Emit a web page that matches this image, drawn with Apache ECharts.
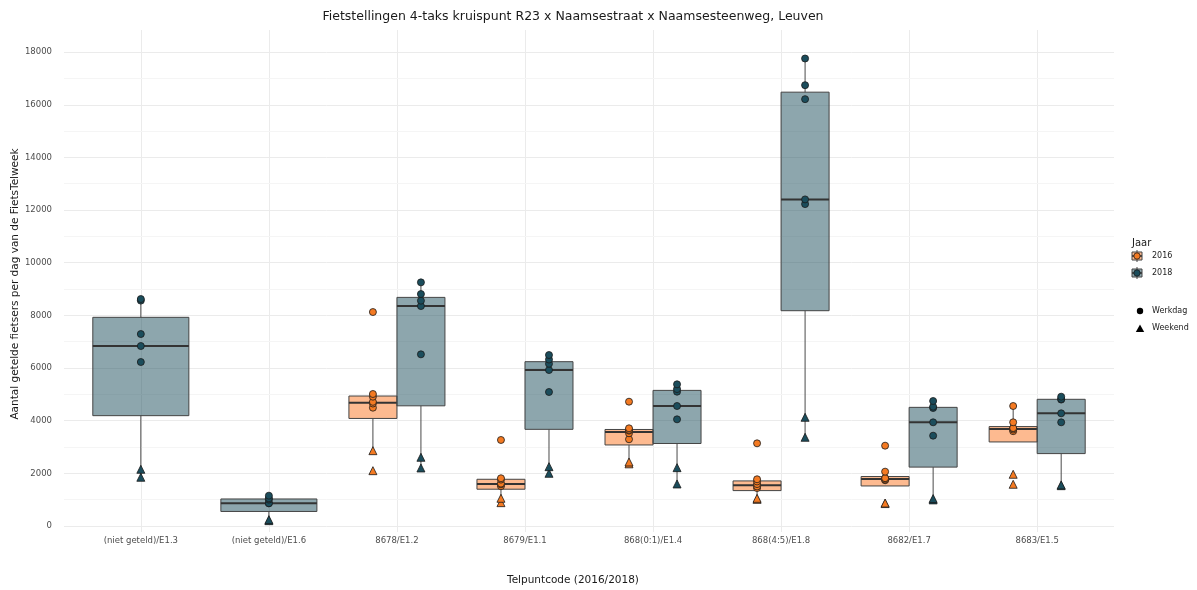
<!DOCTYPE html>
<html>
<head>
<meta charset="utf-8">
<script src="https://cdn.jsdelivr.net/npm/echarts@6/dist/echarts.min.js"></script>
<style>html,body{margin:0;padding:0;background:#fff;}#chart{width:1197px;height:590px;}</style>
</head>
<body>
<div id="chart"></div>
<script>
// ---------------- data ----------------
const categories = ['(niet geteld)/E1.3','(niet geteld)/E1.6','8678/E1.2','8679/E1.1','868(0:1)/E1.4','868(4:5)/E1.8','8682/E1.7','8683/E1.5'];
const years = ['2016', '2018'];
// counts per category (one list per category)
const werkdag2016 = [[], [], [4492,4650,4714,4910,5012,8126], [1510,1580,1610,1760,1811,3265], [3292,3520,3620,3650,3709,4720], [1440,1500,1590,1690,1773,3139], [1735,1760,1808,1815,2062,3049], [3600,3660,3706,3720,3937,4556]];
const weekend2016 = [[], [], [2100,2860], [885,1052], [2360,2430], [1010,1050], [850,870], [1583,1963]];
const werkdag2018 = [[6227,6835,7290,8560,8620], [860,862,1000,1050,1150], [6519,8353,8556,8809,9253], [5088,5923,6160,6320,6493], [4050,4556,5100,5200,5380], [12226,12405,16213,16744,17757], [3429,3937,4480,4530,4746], [3937,4279,4800,4822,4910]];
const weekend2018 = [[1849,2152], [201,240], [2202,2608], [2000,2252], [1595,2214], [3368,4127], [990,1040], [1530,1560]];
const yTicks = [0,2000,4000,6000,8000,10000,12000,14000,16000,18000];
const yMinorTicks = [1000,3000,5000,7000,9000,11000,13000,15000,17000];
const yRange = [-230, 18840];

// ---------------- styles ----------------
const pointColor = {'2016': '#f47a22', '2018': '#1b4d5c'};
const boxFill = {'2016': 'rgba(251,140,70,0.6)', '2018': 'rgba(27,77,92,0.5)'};
const BOX_WIDTH = 0.75;

// ---------------- stats (ggplot-style boxplot) ----------------
function quantile(sorted, p) {
  const h = (sorted.length - 1) * p;
  const lo = Math.floor(h), hi = Math.ceil(h);
  return sorted[lo] + (h - lo) * (sorted[hi] - sorted[lo]);
}
function boxStats(values) {
  const s = values.slice().sort((a, b) => a - b);
  const q1 = quantile(s, 0.25), med = quantile(s, 0.5), q3 = quantile(s, 0.75);
  const iqr = q3 - q1;
  const inside = s.filter(v => v >= q1 - 1.5 * iqr && v <= q3 + 1.5 * iqr);
  return [inside[0], q1, med, q3, inside[inside.length - 1]];
}

const groups = {'2016': [werkdag2016, weekend2016], '2018': [werkdag2018, weekend2018]};
function hasYear(y, i) { return groups[y][0][i].length + groups[y][1][i].length > 0; }
function xPos(y, i) {
  const both = hasYear('2016', i) && hasYear('2018', i);
  if (!both) return i;
  return i + (y === '2016' ? -1 : 1) * BOX_WIDTH / 4;
}
function boxWidth(i) {
  const both = hasYear('2016', i) && hasYear('2018', i);
  return both ? BOX_WIDTH / 2 : BOX_WIDTH;
}

function boxData(y) {
  const out = [];
  categories.forEach((c, i) => {
    if (!hasYear(y, i)) return;
    const vals = groups[y][0][i].concat(groups[y][1][i]);
    const st = boxStats(vals);
    out.push([xPos(y, i)].concat(st).concat([boxWidth(i)]));
  });
  return out;
}
function pointData(y, k) {
  const out = [];
  categories.forEach((c, i) => {
    groups[y][k][i].forEach(v => out.push([xPos(y, i), v]));
  });
  return out;
}

function makeRender(y) {
  return function (params, api) {
    const x = api.value(0);
    const half = api.size([api.value(6), 0])[0] / 2;
    const pMin = api.coord([x, api.value(1)]);
    const pQ1 = api.coord([x, api.value(2)]);
    const pMed = api.coord([x, api.value(3)]);
    const pQ3 = api.coord([x, api.value(4)]);
    const pMax = api.coord([x, api.value(5)]);
    const cx = pMed[0];
    const ch = [];
    const wStyle = {stroke: '#4a4a4a', lineWidth: 1};
    if (api.value(5) > api.value(4)) ch.push({type: 'line', shape: {x1: cx, y1: pQ3[1], x2: cx, y2: pMax[1]}, style: wStyle});
    if (api.value(1) < api.value(2)) ch.push({type: 'line', shape: {x1: cx, y1: pQ1[1], x2: cx, y2: pMin[1]}, style: wStyle});
    ch.push({type: 'rect', shape: {x: cx - half, y: pQ3[1], width: 2 * half, height: pQ1[1] - pQ3[1]},
      style: {fill: boxFill[y], stroke: '#444', lineWidth: 1}});
    ch.push({type: 'line', shape: {x1: cx - half, y1: pMed[1], x2: cx + half, y2: pMed[1]}, style: {stroke: '#333', lineWidth: 2}});
    return {type: 'group', children: ch};
  };
}

const gridLines = [];
categories.forEach((c, i) => gridLines.push({xAxis: i, lineStyle: {color: '#ebebeb', width: 1, type: 'solid'}}));
yTicks.forEach(v => gridLines.push({yAxis: v, lineStyle: {color: '#ebebeb', width: 1, type: 'solid'}}));
yMinorTicks.forEach(v => gridLines.push({yAxis: v, lineStyle: {color: '#f5f5f5', width: 1, type: 'solid'}}));

const series = [{
  type: 'scatter', name: 'grid', data: [[0, 0]], symbolSize: 0, silent: true, z: 0,
  markLine: {silent: true, z: 0, symbol: 'none', label: {show: false}, animation: false,
    lineStyle: {type: 'solid'}, emphasis: {disabled: true}, data: gridLines}
}];
years.forEach(y => {
  series.push({type: 'custom', name: y, renderItem: makeRender(y), data: boxData(y),
    encode: {x: 0, y: [1, 2, 3, 4, 5]}, z: 2, silent: true});
});
years.forEach(y => {
  series.push({type: 'scatter', name: y + ' Werkdag', data: pointData(y, 0), symbol: 'circle', symbolSize: 7, z: 3,
    itemStyle: {color: pointColor[y], borderColor: '#1a1a1a', borderWidth: 0.8, opacity: 1}});
  series.push({type: 'scatter', name: y + ' Weekend', data: pointData(y, 1), symbol: 'triangle', symbolSize: 8, z: 3,
    itemStyle: {color: pointColor[y], borderColor: '#1a1a1a', borderWidth: 0.8, opacity: 1}});
});

const FONT = 'DejaVu Sans';
const chart = echarts.init(document.getElementById('chart'), null, {renderer: 'canvas'});
chart.setOption({
  animation: false,
  backgroundColor: '#fff',
  textStyle: {fontFamily: FONT},
  grid: {left: 64, right: 83, top: 30, bottom: 58},
  xAxis: {
    type: 'value', min: -0.6, max: 7.6, minInterval: 1, maxInterval: 1,
    axisLine: {show: false}, axisTick: {show: false}, splitLine: {show: false},
    axisLabel: {fontSize: 8.5, color: '#4d4d4d', fontFamily: FONT, margin: 4,
      formatter: v => (Number.isInteger(v) && v >= 0 && v < categories.length) ? categories[v] : ''}
  },
  yAxis: {
    type: 'value', min: yRange[0], max: yRange[1], minInterval: 2000, maxInterval: 2000,
    axisLine: {show: false}, axisTick: {show: false}, splitLine: {show: false},
    axisLabel: {fontSize: 8.5, color: '#4d4d4d', fontFamily: FONT, margin: 12,
      formatter: v => (v % 2000 === 0 && v >= 0) ? String(v) : ''}
  },
  series: series,
  graphic: [
    {type: 'text', style: {text: 'Fietstellingen 4-taks kruispunt R23 x Naamsestraat x Naamsesteenweg, Leuven',
      x: 573, y: 17, fill: '#1a1a1a', font: '12.5px "DejaVu Sans"', textAlign: 'center', textVerticalAlign: 'middle'}},
    {type: 'text', style: {text: 'Telpuntcode (2016/2018)', x: 573, y: 580, fill: '#1a1a1a', font: '10.5px "DejaVu Sans"', textAlign: 'center', textVerticalAlign: 'middle'}},
    {type: 'text', rotation: Math.PI / 2, x: 15, y: 284, style: {text: 'Aantal getelde fietsers per dag van de FietsTelweek', x: 0, y: 0, fill: '#1a1a1a', font: '10.5px "DejaVu Sans"', textAlign: 'center', textVerticalAlign: 'middle'}},
    // legend
    {type: 'text', style: {text: 'Jaar', x: 1132, y: 243, fill: '#1a1a1a', font: '10px "DejaVu Sans"', textVerticalAlign: 'middle'}},
    {type: 'line', shape: {x1: 1137, y1: 250, x2: 1137, y2: 262}, style: {stroke: '#444', lineWidth: 1}},
    {type: 'rect', shape: {x: 1132, y: 252, width: 10, height: 8}, style: {fill: boxFill['2016'], stroke: '#444', lineWidth: 1}},
    {type: 'line', shape: {x1: 1132, y1: 256, x2: 1142, y2: 256}, style: {stroke: '#333', lineWidth: 1.5}},
    {type: 'circle', shape: {cx: 1137, cy: 256, r: 3.2}, style: {fill: pointColor['2016'], stroke: '#1a1a1a', lineWidth: 0.8}},
    {type: 'text', style: {text: '2016', x: 1152, y: 256, fill: '#1a1a1a', font: '8px "DejaVu Sans"', textVerticalAlign: 'middle'}},
    {type: 'line', shape: {x1: 1137, y1: 267, x2: 1137, y2: 279}, style: {stroke: '#444', lineWidth: 1}},
    {type: 'rect', shape: {x: 1132, y: 269, width: 10, height: 8}, style: {fill: boxFill['2018'], stroke: '#444', lineWidth: 1}},
    {type: 'line', shape: {x1: 1132, y1: 273, x2: 1142, y2: 273}, style: {stroke: '#333', lineWidth: 1.5}},
    {type: 'circle', shape: {cx: 1137, cy: 273, r: 3.2}, style: {fill: pointColor['2018'], stroke: '#1a1a1a', lineWidth: 0.8}},
    {type: 'text', style: {text: '2018', x: 1152, y: 273, fill: '#1a1a1a', font: '8px "DejaVu Sans"', textVerticalAlign: 'middle'}},
    {type: 'circle', shape: {cx: 1140, cy: 311, r: 3.2}, style: {fill: '#000'}},
    {type: 'text', style: {text: 'Werkdag', x: 1152, y: 311, fill: '#1a1a1a', font: '8px "DejaVu Sans"', textVerticalAlign: 'middle'}},
    {type: 'polygon', shape: {points: [[1140, 324.5], [1144.2, 332], [1135.8, 332]]}, style: {fill: '#000'}},
    {type: 'text', style: {text: 'Weekend', x: 1152, y: 328, fill: '#1a1a1a', font: '8px "DejaVu Sans"', textVerticalAlign: 'middle'}}
  ]
});
</script>
</body>
</html>
